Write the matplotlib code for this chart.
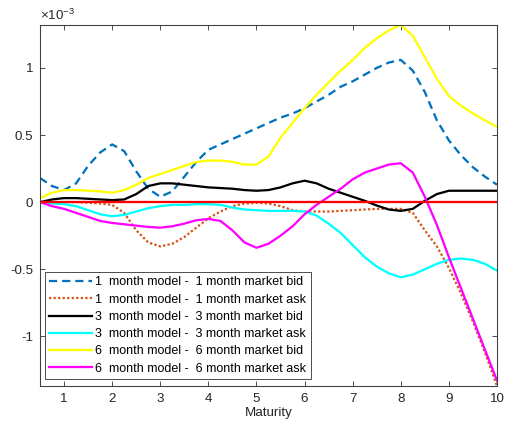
import numpy as np
import matplotlib
matplotlib.use('Agg')
import matplotlib.pyplot as plt

plt.rcParams['font.family'] = ['Liberation Sans', 'DejaVu Sans']
plt.rcParams['mathtext.fontset'] = 'custom'
plt.rcParams['mathtext.rm'] = 'Liberation Sans'

# Maturity grid (years) and model - market differences, in units of 1e-3
maturity = [0.5, 0.75, 1.0, 1.25, 1.5, 1.75, 2.0, 2.25, 2.5, 2.75,
            3.0, 3.25, 3.5, 3.75, 4.0, 4.25, 4.5, 4.75, 5.0, 5.25,
            5.5, 5.75, 6.0, 6.25, 6.5, 6.75, 7.0, 7.25, 7.5, 7.75,
            8.0, 8.25, 8.5, 8.75, 9.0, 9.25, 9.5, 9.75, 10.0]

m1_bid = [0.18, 0.12, 0.09, 0.14, 0.27, 0.37, 0.43, 0.38, 0.23, 0.10,
          0.04, 0.08, 0.19, 0.30, 0.39, 0.43, 0.47, 0.51, 0.55, 0.59,
          0.63, 0.66, 0.70, 0.75, 0.80, 0.86, 0.90, 0.95, 1.00, 1.04,
          1.06, 0.98, 0.82, 0.61, 0.46, 0.35, 0.26, 0.19, 0.13]

m1_ask = [0.0, 0.0, 0.0, 0.0, -0.005, -0.01, -0.02, -0.08, -0.21, -0.30,
          -0.33, -0.31, -0.26, -0.19, -0.12, -0.07, -0.03, -0.01, -0.005, -0.01,
          -0.03, -0.06, -0.07, -0.07, -0.07, -0.065, -0.06, -0.055, -0.05, -0.05,
          -0.05, -0.08, -0.21, -0.33, -0.49, -0.68, -0.89, -1.12, -1.37]

m3_bid = [0.0, 0.02, 0.03, 0.03, 0.025, 0.02, 0.015, 0.02, 0.06, 0.12,
          0.14, 0.14, 0.13, 0.12, 0.11, 0.105, 0.10, 0.09, 0.085, 0.09,
          0.11, 0.14, 0.16, 0.14, 0.10, 0.07, 0.04, 0.01, -0.025, -0.055,
          -0.065, -0.05, 0.01, 0.06, 0.085, 0.085, 0.085, 0.085, 0.085]

m3_ask = [0.0, -0.01, -0.015, -0.03, -0.06, -0.09, -0.105, -0.095, -0.07, -0.045,
          -0.03, -0.02, -0.02, -0.015, -0.015, -0.02, -0.04, -0.055, -0.06, -0.065,
          -0.065, -0.065, -0.07, -0.10, -0.16, -0.23, -0.32, -0.41, -0.48, -0.53,
          -0.56, -0.54, -0.50, -0.46, -0.43, -0.42, -0.43, -0.46, -0.51]

m6_bid = [0.03, 0.07, 0.09, 0.09, 0.085, 0.08, 0.07, 0.09, 0.13, 0.18,
          0.21, 0.24, 0.27, 0.30, 0.31, 0.31, 0.30, 0.28, 0.28, 0.34,
          0.48, 0.59, 0.70, 0.80, 0.89, 0.98, 1.06, 1.15, 1.22, 1.28,
          1.32, 1.24, 1.08, 0.92, 0.79, 0.72, 0.66, 0.61, 0.56]

m6_ask = [0.0, -0.03, -0.05, -0.08, -0.11, -0.14, -0.155, -0.165, -0.175, -0.185,
          -0.19, -0.18, -0.16, -0.135, -0.125, -0.14, -0.21, -0.30, -0.34, -0.31,
          -0.25, -0.18, -0.09, -0.02, 0.04, 0.10, 0.17, 0.22, 0.25, 0.28,
          0.29, 0.22, 0.04, -0.17, -0.41, -0.64, -0.87, -1.10, -1.33]

labels = ['1  month model -  1 month market bid',
          '1  month model -  1 month market ask',
          '3  month model -  3 month market bid',
          '3  month model -  3 month market ask',
          '6  month model -  6 month market bid',
          '6  month model -  6 month market ask']

fig = plt.figure(figsize=(511 / 96, 432 / 96), dpi=96)
ax = fig.add_axes([40 / 511, 46 / 432, 457 / 511, 361 / 432])

lw = 1.7
ax.plot(maturity, m1_bid, color='#0072BD', lw=lw, dashes=(3.6, 2.2), label=labels[0])
ax.plot(maturity, m1_ask, color='#D95319', lw=lw, linestyle=(0, (1, 1)), label=labels[1])
ax.plot(maturity, m3_bid, color='black', lw=lw, label=labels[2])
ax.plot(maturity, m3_ask, color='cyan', lw=lw, label=labels[3])
ax.plot(maturity, m6_bid, color='yellow', lw=lw, label=labels[4])
ax.plot(maturity, m6_ask, color='magenta', lw=lw, label=labels[5])
# zero reference line
ax.plot([maturity[0], maturity[-1]], [0, 0], color='red', lw=lw)

all_vals = np.concatenate([m1_bid, m1_ask, m3_bid, m3_ask, m6_bid, m6_ask])
ax.set_xlim(maturity[0], maturity[-1])
ax.set_ylim(all_vals.min(), all_vals.max())

yt = [-1, -0.5, 0, 0.5, 1]
ax.set_xticks(range(1, 11))
ax.set_yticks(yt)
ax.set_yticklabels(['%g' % v for v in yt])
ax.tick_params(direction='in', top=True, right=True, length=3.5, width=0.6,
               labelsize=10, colors='#262626', pad=5)
for s in ax.spines.values():
    s.set_color('#404040')
    s.set_linewidth(0.8)

ax.set_xlabel('Maturity', fontsize=10, color='#262626', labelpad=2)
ax.text(0, 1.005, r'$\times\mathregular{10^{-3}}$', transform=ax.transAxes,
        ha='left', va='bottom', fontsize=10, color='#262626')

leg = ax.legend(loc='lower left', bbox_to_anchor=(0.011, 0.019), borderaxespad=0,
                fontsize=9.4, handlelength=3.4, handletextpad=0.25, borderpad=0.35,
                labelspacing=0.42, fancybox=False, framealpha=1)
leg.get_frame().set_edgecolor('#262626')
leg.get_frame().set_linewidth(0.6)

plt.savefig('out.png', dpi=96)
